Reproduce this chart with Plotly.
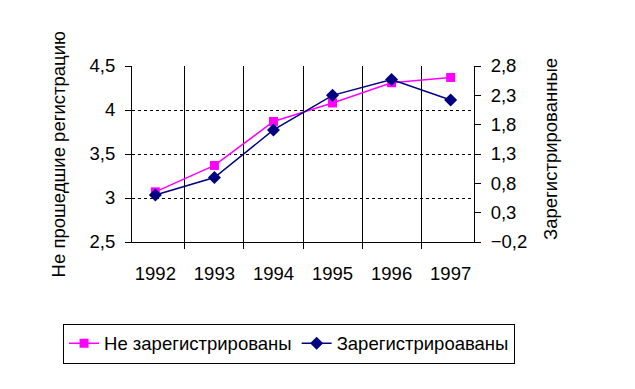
import plotly.graph_objects as go

years = ["1992", "1993", "1994", "1995", "1996", "1997"]
not_registered = [3.07, 3.37, 3.87, 4.08, 4.31, 4.37]
registered = [0.60, 0.90, 1.71, 2.30, 2.57, 2.22]

left_title = "Не прошедшие регистрацию"
right_title = "Зарегистрированные"
name_not = "Не зарегистрированы"
name_reg = "Зарегистрироаваны"

FONT = "Arial, 'Liberation Sans', sans-serif"
FS = 18.5

fig = go.Figure()
fig.add_trace(go.Scatter(
    x=years, y=not_registered, name=name_not, mode="lines+markers",
    line=dict(color="#FF00FF", width=1.5),
    marker=dict(symbol="square", size=9, color="#FF00FF"),
    yaxis="y"))
fig.add_trace(go.Scatter(
    x=years, y=registered, name=name_reg, mode="lines+markers",
    line=dict(color="#000080", width=1.5),
    marker=dict(symbol="diamond", size=10, color="#000080"),
    yaxis="y2"))

fig.update_layout(
    width=619, height=373,
    margin=dict(l=124, r=153, t=58, b=139, pad=0, autoexpand=False),
    paper_bgcolor="white", plot_bgcolor="white",
    font=dict(family=FONT, size=FS, color="black"),
    separators=", ",
    showlegend=True,
    legend=dict(orientation="h", x=-0.2016, y=-0.464, xanchor="left", yanchor="top",
                bordercolor="black", borderwidth=1, bgcolor="white",
                font=dict(family=FONT, size=FS, color="black"),
                itemsizing="trace", tracegroupgap=0),
    xaxis=dict(type="category", tickson="boundaries", showgrid=True, automargin=False,
               gridcolor="black", gridwidth=1, showline=True, linecolor="black",
               linewidth=1, ticks="outside", ticklen=6, tickcolor="black",
               ticklabelstandoff=15, zeroline=False),
    yaxis=dict(range=[2.5, 4.5], tick0=2.5, dtick=0.5, showgrid=True, automargin=False,
               gridcolor="black", griddash="3px,3px", gridwidth=1,
               showline=True, linecolor="black", linewidth=1, ticks="outside",
               ticklen=6, tickcolor="black", zeroline=False, ticklabelstandoff=6),
    yaxis2=dict(range=[-0.2, 2.8], tick0=-0.2, dtick=0.5, overlaying="y", side="right",
                showgrid=False, showline=True, linecolor="black", linewidth=1, automargin=False,
                ticks="outside", ticklen=6, tickcolor="black", zeroline=False,
                tickformat=".1f", ticklabelstandoff=6),
    annotations=[
        dict(text=left_title, textangle=-90, xref="paper", yref="paper",
             x=-0.214, y=-0.2135, xanchor="center", yanchor="bottom",
             showarrow=False, font=dict(family=FONT, size=FS, color="black")),
        dict(text=right_title, textangle=-90, xref="paper", yref="paper",
             x=1.222, y=0.0, xanchor="center", yanchor="bottom",
             showarrow=False, font=dict(family=FONT, size=FS, color="black")),
    ],
)

fig.write_html("out.html")
